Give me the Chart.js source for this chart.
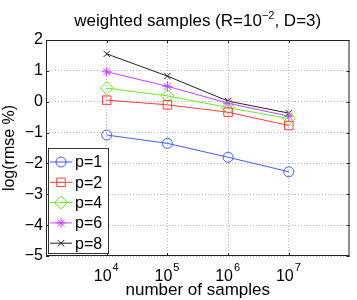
<!DOCTYPE html>
<html>
<head>
<meta charset="utf-8">
<script src="https://cdn.jsdelivr.net/npm/chart.js@4/dist/chart.umd.min.js"></script>
<style>
  html, body { margin: 0; padding: 0; background: #fff; }
  #wrap { width: 357px; height: 300px; }
</style>
</head>
<body>
<div id="wrap"><canvas id="c"></canvas></div>
<script>
// --- data ---
const samples = [1e4, 1e5, 1e6, 1e7];
const p1 = [-1.08, -1.35, -1.80, -2.27];
const p2 = [0.05, -0.10, -0.34, -0.77];
const p4 = [0.44, 0.19, -0.19, -0.55];
const p6 = [0.97, 0.50, -0.05, -0.47];
const p8 = [1.55, 0.83, 0.02, -0.37];
const xTicks = [1e4, 1e5, 1e6, 1e7];
const yTicks = [-5, -4, -3, -2, -1, 0, 1, 2];

const FONT = "'Liberation Sans', Arial, Helvetica, sans-serif";

function series(label, vals, color, style, r) {
	return {
		label: label,
		data: samples.map((x, i) => ({ x: x, y: vals[i] })),
		borderColor: color,
		backgroundColor: "transparent",
		borderWidth: 1,
		pointStyle: style,
		pointRadius: r,
		pointBorderWidth: 1,
		pointBorderColor: color,
		pointBackgroundColor: "transparent",
		tension: 0,
	};
}

const datasets = [
	series("p=1", p1, "#3d5cff", "circle", 5),
	series("p=2", p2, "#ff3b3b", "rect", 6),
	series("p=4", p4, "#66ee22", "rectRot", 6.5),
	series("p=6", p6, "#c040ff", "star", 5),
	series("p=8", p8, "#222222", "crossRot", 4.5),
];

// box, title with superscript, x exponents and the legend
const matlabLook = {
	id: "matlabLook",
	afterDraw(chart) {
		const ctx = chart.ctx;
		const a = chart.chartArea;
		const xs = chart.scales.x;
		const ys = chart.scales.y;
		ctx.save();

		// axes box
		ctx.strokeStyle = "#222";
		ctx.lineWidth = 1;
		ctx.strokeRect(a.left + 0.5, a.top + 0.5, a.right - a.left - 1, a.bottom - a.top - 1);

		// inward ticks
		ctx.beginPath();
		yTicks.forEach((v) => {
			const y = Math.round(ys.getPixelForValue(v)) + 0.5;
			ctx.moveTo(a.left, y); ctx.lineTo(a.left + 3, y);
			ctx.moveTo(a.right, y); ctx.lineTo(a.right - 3, y);
		});
		xTicks.forEach((v) => {
			const x = Math.round(xs.getPixelForValue(v)) + 0.5;
			ctx.moveTo(x, a.bottom); ctx.lineTo(x, a.bottom - 3);
			ctx.moveTo(x, a.top); ctx.lineTo(x, a.top + 3);
		});
		ctx.stroke();

		// title
		ctx.fillStyle = "#000";
		ctx.textBaseline = "alphabetic";
		ctx.textAlign = "left";
		const big = "17px " + FONT;
		const small = "11px " + FONT;
		const parts = [
			["weighted samples (R=10", big, 0],
			["\u22122", small, -7],
			[", D=3)", big, 0],
		];
		let total = 0;
		parts.forEach((p) => { ctx.font = p[1]; total += ctx.measureText(p[0]).width; });
		let tx = (a.left + a.right) / 2 - total / 2;
		parts.forEach((p) => {
			ctx.font = p[1];
			ctx.fillText(p[0], tx, 26 + p[2]);
			tx += ctx.measureText(p[0]).width;
		});

		// x exponents
		ctx.font = "16px " + FONT;
		const baseW = ctx.measureText("10").width;
		ctx.font = "11px " + FONT;
		xTicks.forEach((v) => {
			const x = xs.getPixelForValue(v) - 4 + baseW / 2 + 1;
			ctx.fillText(String(Math.round(Math.log10(v))), x, a.bottom + 15);
		});

		// legend
		const lx = 48, ly = 148, lw = 60, lh = 105;
		ctx.fillStyle = "#fff";
		ctx.fillRect(lx, ly, lw, lh);
		ctx.strokeStyle = "#333";
		ctx.strokeRect(lx + 0.5, ly + 0.5, lw, lh);
		ctx.font = "16px " + FONT;
		ctx.textBaseline = "middle";
		chart.data.datasets.forEach((ds, i) => {
			const y = 162 + i * 20.3;
			ctx.strokeStyle = ds.borderColor;
			ctx.lineWidth = 1;
			ctx.beginPath();
			ctx.moveTo(lx + 2, y); ctx.lineTo(lx + 24, y);
			ctx.stroke();
			ctx.fillStyle = "rgba(0,0,0,0)";
			Chart.helpers.drawPoint(ctx, {
				pointStyle: ds.pointStyle,
				radius: ds.pointRadius,
				borderWidth: 1,
				rotation: 0,
			}, lx + 13, y);
			ctx.fillStyle = "#000";
			ctx.fillText(ds.label, lx + 27, y + 1);
		});
		ctx.restore();
	},
};

new Chart(document.getElementById("c"), {
	type: "line",
	data: { datasets: datasets },
	plugins: [matlabLook],
	options: {
		responsive: true,
		maintainAspectRatio: false,
		animation: false,
		layout: { padding: { top: 40, right: 7, left: 0, bottom: 0 } },
		plugins: { legend: { display: false }, title: { display: false }, tooltip: { enabled: false } },
		scales: {
			x: {
				type: "logarithmic",
				min: 1e3,
				max: 1e8,
				afterBuildTicks: (s) => { s.ticks = xTicks.map((v) => ({ value: v })); },
				afterFit: (s) => { s.height = 44; },
				border: { display: false, dash: [1, 2] },
				grid: { color: "#b4b4b4", lineWidth: 1, drawTicks: false },
				ticks: {
					color: "#000",
					font: { family: FONT, size: 16 },
					padding: 11,
					labelOffset: -4,
					maxRotation: 0,
					autoSkip: false,
					callback: () => "10",
				},
				title: {
					display: true,
					text: "number of samples",
					color: "#000",
					font: { family: FONT, size: 17 },
					padding: { top: 0, bottom: -1 },
				},
			},
			y: {
				min: -5,
				max: 2,
				afterBuildTicks: (s) => { s.ticks = yTicks.map((v) => ({ value: v })); },
				afterFit: (s) => { s.width = 46; },
				border: { display: false, dash: [1, 2] },
				grid: { color: "#b4b4b4", lineWidth: 1, drawTicks: false },
				ticks: {
					color: "#000",
					font: { family: FONT, size: 16 },
					padding: 3,
					callback: (v) => (v < 0 ? "\u2212" + Math.abs(v) : String(v)),
				},
				title: {
					display: true,
					text: "log(rmse %)",
					color: "#000",
					font: { family: FONT, size: 16 },
					padding: { top: 0, bottom: 0 },
				},
			},
		},
	},
});
</script>
</body>
</html>
